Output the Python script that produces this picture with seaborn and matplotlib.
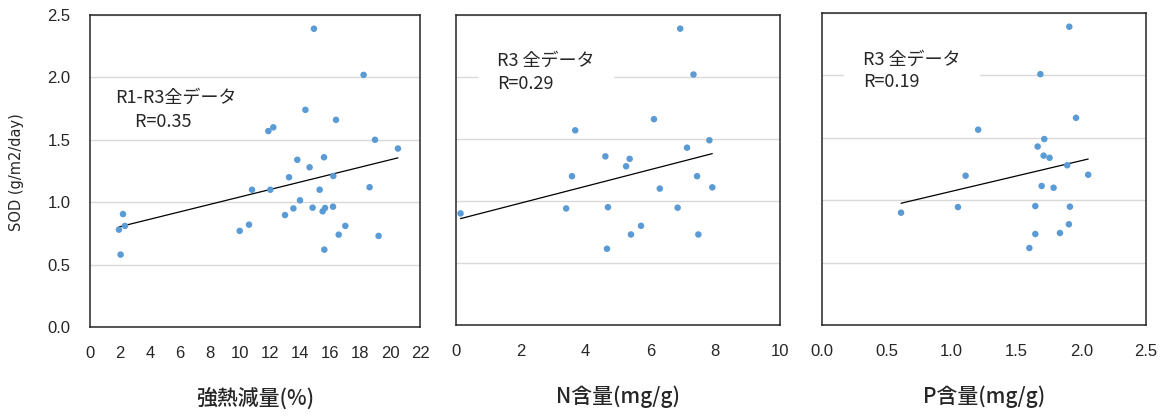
import numpy as np
import pandas as pd
import matplotlib
matplotlib.use("Agg")
import matplotlib.pyplot as plt
import seaborn as sns

# 強熱減量 vs SOD (R1-R3)
loi_x = [14.93, 18.24, 14.36, 16.4, 11.89, 12.22, 19.0, 20.53, 13.82, 15.6, 14.64,
         13.27, 16.22, 10.8, 12.02, 15.31, 18.64, 14.0, 13.56, 14.84, 15.51, 15.67,
         16.2, 13.0, 2.2, 2.33, 1.93, 10.6, 9.98, 17.02, 16.58, 19.24, 15.62, 2.04]
loi_y = [2.39, 2.02, 1.74, 1.66, 1.57, 1.60, 1.50, 1.43, 1.34, 1.36, 1.28,
         1.20, 1.21, 1.10, 1.10, 1.10, 1.12, 1.015, 0.95, 0.956, 0.927, 0.954,
         0.964, 0.897, 0.905, 0.81, 0.78, 0.82, 0.77, 0.81, 0.74, 0.73, 0.62, 0.58]

# N含量 vs SOD (R3)
n_x = [6.92, 7.33, 6.11, 3.68, 7.82, 7.13, 4.61, 5.36, 5.25, 3.58, 7.44,
       6.29, 7.91, 0.14, 3.40, 4.69, 6.84, 5.71, 5.40, 7.48, 4.66]
n_y = [2.39, 2.02, 1.66, 1.57, 1.49, 1.43, 1.36, 1.34, 1.28, 1.20, 1.20,
       1.10, 1.11, 0.90, 0.94, 0.95, 0.946, 0.80, 0.73, 0.73, 0.615]

# P含量 vs SOD (R3)
p_x = [1.908, 1.685, 1.96, 1.205, 1.715, 1.664, 1.71, 1.756, 1.892, 1.108, 2.054,
       1.695, 1.787, 0.61, 1.049, 1.646, 1.913, 1.905, 1.646, 1.836, 1.60]
p_y = [2.39, 2.01, 1.66, 1.565, 1.49, 1.43, 1.357, 1.34, 1.28, 1.196, 1.204,
       1.114, 1.10, 0.90, 0.945, 0.953, 0.948, 0.807, 0.729, 0.737, 0.617]

x_labels = ["強熱減量(%)", "N含量(mg/g)", "P含量(mg/g)"]
notes = ["R1-R3全データ\n     R=0.35", "R3 全データ\nR=0.29", "R3 全データ\nR=0.19"]
y_label = "SOD (g/m2/day)"

sns.set_style("white")
plt.rcParams["font.family"] = ["Noto Sans CJK JP", "DejaVu Sans"]

dot_color = "#5B9BD5"
edge_color = "#262626"
tick_font = ["Liberation Sans Narrow", "Liberation Sans", "DejaVu Sans"]

fig = plt.figure(figsize=(11.6, 4.16), dpi=100)
ax1 = fig.add_axes([90 / 1160, 89 / 416, 330 / 1160, 312 / 416])
ax2 = fig.add_axes([456 / 1160, 91 / 416, 324 / 1160, 310 / 416])
ax3 = fig.add_axes([822 / 1160, 91 / 416, 324 / 1160, 312 / 416])

panels = [
    (ax1, loi_x, loi_y, (0, 22), np.arange(0, 23, 2), "%d"),
    (ax2, n_x, n_y, (0, 10), np.arange(0, 11, 2), "%d"),
    (ax3, p_x, p_y, (0, 2.5), np.arange(0, 2.6, 0.5), "%.1f"),
]

for i, (ax, xs, ys, xlim, xticks, fmt) in enumerate(panels):
    df = pd.DataFrame({"x": xs, "y": ys})
    sns.regplot(data=df, x="x", y="y", ax=ax, scatter=False, ci=None, truncate=True,
                line_kws={"color": "black", "lw": 0.9})
    sns.scatterplot(data=df, x="x", y="y", ax=ax, color=dot_color, s=22,
                    edgecolor="none", zorder=3)
    ax.set_xlim(*xlim)
    ax.set_ylim(0, 2.5)
    ax.set_xticks(xticks)
    ax.set_xticklabels([fmt % t for t in xticks], family=tick_font, fontsize=12)
    ax.set_yticks(np.arange(0, 2.6, 0.5))
    ax.yaxis.grid(True, color="#d9d9d9", lw=1)
    ax.set_axisbelow(True)
    for sp in ax.spines.values():
        sp.set_color(edge_color)
        sp.set_linewidth(1.1)
    ax.tick_params(axis="x", direction="in", length=5, width=1, color=edge_color, pad=14)
    ax.tick_params(axis="y", length=0)
    ax.set_ylabel("")
    ax.set_xlabel(x_labels[i], fontsize=15, fontweight="medium", labelpad=19)
    if i == 0:
        ax.set_yticklabels(["%.1f" % t for t in np.arange(0, 2.6, 0.5)],
                           family=tick_font, fontsize=12)
        ax.tick_params(axis="y", pad=14)
    else:
        ax.set_yticklabels([])

ax1.text(0.075, 0.765, notes[0], transform=ax1.transAxes, fontsize=13,
         va="top", ha="left", linespacing=1.5)
for ax, note in [(ax2, notes[1]), (ax3, notes[2])]:
    ax.text(0.127, 0.88, note, transform=ax.transAxes, fontsize=13,
            va="top", ha="left", linespacing=1.35,
            bbox=dict(facecolor="white", edgecolor="none", pad=14))

fig.text(17 / 1160, 1 - 172 / 416, y_label, rotation=90, ha="center", va="center",
         fontsize=10.5, family=["DejaVu Sans"])

fig.savefig("out.png", dpi=100)
